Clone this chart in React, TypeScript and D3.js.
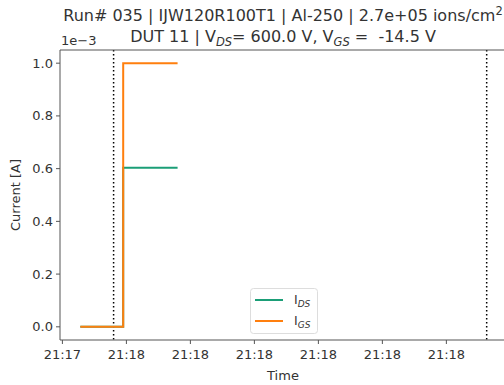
import React from "react";
import * as d3 from "d3";

const titleLine1 = "Run# 035 | IJW120R100T1 | Al-250 | 2.7e+05 ions/cm";
const baseDate = "2024-01-01T";
const timesStr = ["21:17:52.8", "21:17:59.5", "21:17:59.5", "21:18:08.0"];
const idsValues = [0, 0, 0.603e-3, 0.603e-3];
const igsValues = [0, 0, 1.0e-3, 1.0e-3];
const markerTimes = ["21:17:58.0", "21:18:56.3"];
const yTicks = [0, 0.2e-3, 0.4e-3, 0.6e-3, 0.8e-3, 1.0e-3];
const xTickTimes = ["21:17:50", "21:18:00", "21:18:10", "21:18:20", "21:18:30", "21:18:40", "21:18:50"];

const W = 504, H = 385;
const left = 60, right = 507, top = 50, bottom = 340;
const FONT = "DejaVu Sans, sans-serif";
const GREEN = "#1b9e77";
const ORANGE = "#ff7f0e";

const parse = (s: string) => new Date(baseDate + s);

export default function App() {
  const times = timesStr.map(parse);
  const marks = markerTimes.map(parse);
  const all = [...times, ...marks].map((d) => d.getTime());
  const mn = d3.min(all)!, mx = d3.max(all)!;
  const pad = (mx - mn) * 0.05;
  const x = d3.scaleTime().domain([new Date(mn - pad), new Date(mx + pad)]).range([left, right]);
  const y = d3.scaleLinear().domain([-0.05e-3, 1.05e-3]).range([bottom, top]);
  const line = d3.line<[Date, number]>().x((d) => x(d[0])).y((d) => y(d[1]));
  const ids = line(times.map((t, i) => [t, idsValues[i]] as [Date, number]))!;
  const igs = line(times.map((t, i) => [t, igsValues[i]] as [Date, number]))!;
  const fmt = d3.timeFormat("%H:%M");
  const tc = "#333";
  const sc = "#555";
  return (
    <svg width={W} height={H} style={{ position: "absolute", left: 0, top: 0, background: "#fff" }} fontFamily={FONT}>
      <rect x={0} y={0} width={W} height={H} fill="#fff" />
      <text x={283} y={21} textAnchor="middle" fontSize={16} fill={tc}>
        {titleLine1}
        <tspan dy={-6} fontSize={11.5}>2</tspan>
      </text>
      <text x={283} y={42} textAnchor="middle" fontSize={16} fill={tc} style={{ whiteSpace: "pre" }}>
        DUT 11 | V<tspan dy={4} fontSize={11.5} fontStyle="italic">DS</tspan>
        <tspan dy={-4}>= 600.0 V, V</tspan>
        <tspan dy={4} fontSize={11.5} fontStyle="italic">GS</tspan>
        <tspan dy={-4}>{" =  -14.5 V"}</tspan>
      </text>
      <text x={61} y={45} fontSize={13} fill={tc}>1e−3</text>
      {marks.map((m, i) => (
        <line key={i} x1={x(m)} x2={x(m)} y1={top} y2={bottom} stroke="#000" strokeWidth={1.5} strokeDasharray="1.5,2.5" />
      ))}
      <path d={ids} fill="none" stroke={GREEN} strokeWidth={2} />
      <path d={igs} fill="none" stroke={ORANGE} strokeWidth={2} />
      <line x1={left} x2={left} y1={top} y2={bottom} stroke={sc} strokeWidth={1} />
      <line x1={left} x2={W} y1={top} y2={top} stroke={sc} strokeWidth={1} />
      <line x1={left} x2={W} y1={bottom} y2={bottom} stroke={sc} strokeWidth={1} />
      {yTicks.map((t, i) => (
        <g key={i}>
          <line x1={left - 4} x2={left} y1={y(t)} y2={y(t)} stroke={sc} />
          <text x={left - 7} y={y(t)} dy="0.35em" textAnchor="end" fontSize={13} fill={tc}>
            {(t * 1000).toFixed(1)}
          </text>
        </g>
      ))}
      {xTickTimes.map((s, i) => {
        const d = parse(s);
        return (
          <g key={i}>
            <line x1={x(d)} x2={x(d)} y1={bottom} y2={bottom + 4} stroke={sc} />
            <text x={x(d)} y={bottom + 19} textAnchor="middle" fontSize={13} fill={tc}>
              {fmt(d)}
            </text>
          </g>
        );
      })}
      <text x={283} y={380} textAnchor="middle" fontSize={13} fill={tc}>Time</text>
      <text transform={`translate(20,195) rotate(-90)`} textAnchor="middle" fontSize={13} fill={tc}>Current [A]</text>
      <g>
        <rect x={250.5} y={288.5} width={67} height={45} rx={3} fill="#fff" fillOpacity={0.8} stroke="#ddd" />
        <line x1={255} x2={283} y1={300} y2={300} stroke={GREEN} strokeWidth={2} />
        <line x1={255} x2={283} y1={321} y2={321} stroke={ORANGE} strokeWidth={2} />
        <text x={294} y={304} fontSize={12.5} fill={tc}>
          I<tspan dy={3} fontSize={9} fontStyle="italic">DS</tspan>
        </text>
        <text x={294} y={325} fontSize={12.5} fill={tc}>
          I<tspan dy={3} fontSize={9} fontStyle="italic">GS</tspan>
        </text>
      </g>
    </svg>
  );
}
